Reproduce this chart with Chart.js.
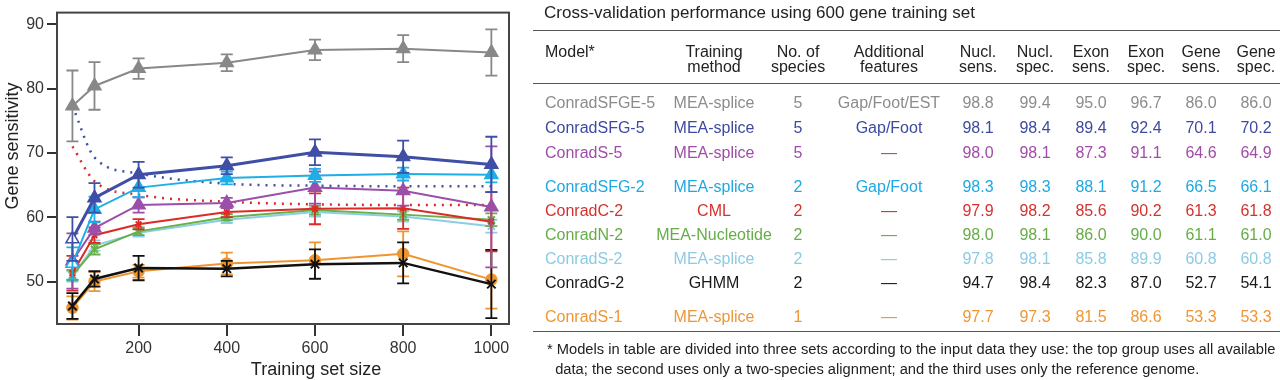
<!DOCTYPE html>
<html>
<head>
<meta charset="utf-8">
<script src="https://cdn.jsdelivr.net/npm/chart.js@4.4.0/dist/chart.umd.min.js"></script>
<style>
  body { margin: 0; width: 1280px; height: 380px; overflow: hidden; background: #fff;
         font-family: "Liberation Sans", Arial, sans-serif; color: #222; }
  #chartBox { position: absolute; left: 0; top: 0; width: 530px; height: 380px; }
  #table { position: absolute; left: 0; top: 0; width: 1280px; height: 380px; }
  .rule { position: absolute; left: 533px; width: 747px; height: 0; border-top: 1.5px solid #555; }
  .cell { position: absolute; white-space: nowrap; line-height: 20px; font-size: 16px; }
  .c { transform: translateX(-50%); }
  .hd { position: absolute; white-space: nowrap; font-size: 16px; line-height: 15px; text-align: center; transform: translateX(-50%); }
  .note { position: absolute; left: 547px; font-size: 14.7px; white-space: nowrap; color: #222; }
</style>
</head>
<body>
<div id="chartBox"><canvas id="geneChart"></canvas></div>
<div id="table"></div>
<script>
// training set sizes and series values (gene sensitivity)
const sizes = [50, 100, 200, 400, 600, 800, 1000];
const xTicks = [200, 400, 600, 800, 1000];
const yTicks = [50, 60, 70, 80, 90];

const sfge5 = [77.3, 80.4, 83.1, 84.0, 86.0, 86.2, 85.6];
const sfge5Err = [5.5, 3.7, 1.6, 1.3, 1.6, 2.1, 3.6];
const sfg5 = [56.6, 63.0, 66.6, 68.0, 70.1, 69.4, 68.2];
const sfg5Err = [3.4, 2.3, 2.0, 1.3, 2.0, 2.5, 4.3];
const s5 = [53.2, 58.3, 61.9, 62.2, 64.6, 64.1, 61.6];
const s5Err = [4.3, 1.0, 1.2, 0.8, 2.5, 2.3, 9.4];
const sfg2 = [52.8, 61.2, 64.6, 66.1, 66.5, 66.7, 66.6];
const sfg2Err = [2.5, 2.0, 1.5, 1.0, 1.0, 1.0, 1.2];
const c2 = [51.3, 57.2, 58.9, 60.8, 61.3, 61.4, 59.3];
const c2Err = [2.7, 1.2, 0.8, 0.8, 2.4, 3.2, 4.6];
const n2 = [51.0, 55.0, 57.8, 60.0, 61.1, 60.4, 59.6];
const n2Err = [0.8, 0.8, 0.6, 0.5, 0.7, 0.8, 1.0];
const s2 = [50.8, 55.6, 57.6, 59.6, 60.8, 60.1, 58.6];
const s2Err = [0.8, 0.8, 0.6, 0.5, 0.7, 0.8, 1.0];
const g2 = [46.2, 50.4, 52.1, 52.0, 52.7, 52.9, 49.6];
const g2Err = [2.0, 1.2, 1.9, 1.2, 2.3, 3.2, 5.3];
const s1 = [45.9, 50.0, 51.6, 52.8, 53.3, 54.3, 50.3];
const s1Err = [1.8, 1.5, 1.0, 1.7, 2.8, 3.5, 4.5];

// dotted reference curves
const blueDotted = [77.3, 69.3, 66.8, 65.2, 64.9, 64.8, 64.8];
const redDotted = [71.0, 65.6, 63.5, 62.4, 62.0, 61.9, 61.9];

// table
const models = ["ConradSFGE-5", "ConradSFG-5", "ConradS-5", "ConradSFG-2", "ConradC-2", "ConradN-2", "ConradS-2", "ConradG-2", "ConradS-1"];
const methods = ["MEA-splice", "MEA-splice", "MEA-splice", "MEA-splice", "CML", "MEA-Nucleotide", "MEA-splice", "GHMM", "MEA-splice"];
const species = ["5", "5", "5", "2", "2", "2", "2", "2", "1"];
const features = ["Gap/Foot/EST", "Gap/Foot", "\u2014", "Gap/Foot", "\u2014", "\u2014", "\u2014", "\u2014", "\u2014"];
const nuclSens = ["98.8", "98.1", "98.0", "98.3", "97.9", "98.0", "97.8", "94.7", "97.7"];
const nuclSpec = ["99.4", "98.4", "98.1", "98.3", "98.2", "98.1", "98.1", "98.4", "97.3"];
const exonSens = ["95.0", "89.4", "87.3", "88.1", "85.6", "86.0", "85.8", "82.3", "81.5"];
const exonSpec = ["96.7", "92.4", "91.1", "91.2", "90.2", "90.0", "89.9", "87.0", "86.6"];
const geneSens = ["86.0", "70.1", "64.6", "66.5", "61.3", "61.1", "60.8", "52.7", "53.3"];
const geneSpec = ["86.0", "70.2", "64.9", "66.1", "61.8", "61.0", "60.8", "54.1", "53.3"];
const rowColors = ["#8c8c8c", "#3d4aa0", "#a04ca8", "#1fa8e2", "#d4322e", "#66ad47", "#8ccbe3", "#1a1a1a", "#ef9634"];

const GRAY = "#888888", DBLUE = "#3f4ea6", PURPLE = "#9c4fa8", CYAN = "#1eaee8",
      RED = "#dc2b26", GREEN = "#6ab04a", LBLUE = "#8ccde6", BLACK = "#111111", ORANGE = "#f0952e";

const pts = (vals) => vals.map((v, i) => ({ x: sizes[i], y: v }));

const series = (label, vals, errs, color, style, width, opts) => Object.assign({
  label: label,
  data: pts(vals),
  errors: errs,
  borderColor: color,
  backgroundColor: color,
  pointBackgroundColor: color,
  pointBorderColor: color,
  borderWidth: width,
  pointStyle: style,
  pointRadius: 7.5,
  pointBorderWidth: 1.5,
  tension: 0,
}, opts || {});

const hollowFirst = (color) => sizes.map((s, i) => (i === 0 ? "#ffffff" : color));

const errorBars = {
  id: "errorBars",
  afterDatasetDraw(chart, args) {
    const ds = chart.data.datasets[args.index];
    if (!ds.errors) return;
    const ctx = chart.ctx;
    const xs = chart.scales.x, ys = chart.scales.y;
    ctx.save();
    ctx.strokeStyle = ds.borderColor;
    ctx.lineWidth = 1.8;
    ds.data.forEach((p, i) => {
      const px = xs.getPixelForValue(p.x);
      const top = ys.getPixelForValue(p.y + ds.errors[i]);
      const bot = ys.getPixelForValue(p.y - ds.errors[i]);
      ctx.beginPath();
      ctx.moveTo(px, top); ctx.lineTo(px, bot);
      ctx.moveTo(px - 6, top); ctx.lineTo(px + 6, top);
      ctx.moveTo(px - 6, bot); ctx.lineTo(px + 6, bot);
      ctx.stroke();
    });
    ctx.restore();
  },
};

const font = "'Liberation Sans', Arial, sans-serif";

// frame round the plot plus the two axis titles (placed a bit off-centre like the original)
const frame = {
  id: "frame",
  afterDraw(chart) {
    const a = chart.chartArea, ctx = chart.ctx;
    ctx.save();
    ctx.strokeStyle = "#444";
    ctx.lineWidth = 2;
    ctx.strokeRect(a.left, a.top, a.right - a.left, a.bottom - a.top);
    ctx.fillStyle = "#222";
    ctx.font = "18px " + font;
    ctx.textAlign = "center";
    ctx.textBaseline = "alphabetic";
    ctx.fillText("Training set size", 316, 375);
    ctx.translate(18, 146);
    ctx.rotate(-Math.PI / 2);
    ctx.fillText("Gene sensitivity", 0, 0);
    ctx.restore();
  },
};

new Chart(document.getElementById("geneChart"), {
  type: "line",
  data: {
    datasets: [
      series("ConradSFGE-5", sfge5, sfge5Err, GRAY, "triangle", 2),
      series("ConradSFG-5", sfg5, sfg5Err, DBLUE, "triangle", 3, { pointBackgroundColor: hollowFirst(DBLUE) }),
      series("ConradSFG-2", sfg2, sfg2Err, CYAN, "triangle", 2, { pointBackgroundColor: hollowFirst(CYAN) }),
      series("ConradS-5", s5, s5Err, PURPLE, "triangle", 2),
      series("ConradC-2", c2, c2Err, RED, "crossRot", 2, { pointRadius: 4, pointBorderWidth: 2 }),
      series("ConradN-2", n2, n2Err, GREEN, "crossRot", 2, { pointRadius: 5, pointBorderWidth: 2 }),
      series("ConradS-2", s2, s2Err, LBLUE, "crossRot", 2, { pointRadius: 5, pointBorderWidth: 2 }),
      series("ConradG-2", g2, g2Err, BLACK, "crossRot", 2.5, { pointRadius: 6, pointBorderWidth: 2 }),
      series("ConradS-1", s1, s1Err, ORANGE, "circle", 2, { pointRadius: 5.5 }),
      {
        label: "blue dotted", data: pts(blueDotted), borderColor: DBLUE, borderWidth: 2.5,
        borderDash: [2, 6], pointRadius: 0, cubicInterpolationMode: "monotone",
      },
      {
        label: "red dotted", data: pts(redDotted), borderColor: RED, borderWidth: 2.5,
        borderDash: [2, 6], pointRadius: 0, cubicInterpolationMode: "monotone",
      },
    ],
  },
  options: {
    responsive: true,
    maintainAspectRatio: false,
    animation: false,
    layout: { padding: { top: 1, right: 21, left: 0, bottom: 0 } },
    plugins: { legend: { display: false }, tooltip: { enabled: false } },
    scales: {
      x: {
        type: "linear",
        min: 15,
        max: 1040,
        afterBuildTicks: (s) => { s.ticks = xTicks.map((v) => ({ value: v })); },
        afterFit: (s) => { s.height = 56; },
        grid: { drawOnChartArea: false, tickLength: 12, color: "#333", lineWidth: 2 },
        border: { display: false },
        ticks: { color: "#333", padding: 3, font: { size: 16, family: font }, callback: (v) => String(v) },
      },
      y: {
        min: 43.4,
        max: 91.8,
        afterBuildTicks: (s) => { s.ticks = yTicks.map((v) => ({ value: v })); },
        afterFit: (s) => { s.width = 57; },
        grid: { drawOnChartArea: false, tickLength: 10, color: "#333", lineWidth: 2 },
        border: { display: false },
        ticks: { color: "#333", padding: 3, font: { size: 16, family: font }, callback: (v) => String(v) },
      },
    },
  },
  plugins: [errorBars, frame],
});

// table on the right
const tbl = document.getElementById("table");
const add = (html) => tbl.insertAdjacentHTML("beforeend", html);

add('<div class="cell" style="left:544px;top:3px;font-size:17px;">Cross-validation performance using 600 gene training set</div>');
add('<div class="rule" style="top:30px"></div>');
add('<div class="rule" style="top:83px"></div>');
add('<div class="rule" style="top:331px"></div>');

const colCenters = [714, 798, 889, 978, 1035, 1091, 1146, 1201, 1256];
const headers = ["Training<br>method", "No. of<br>species", "Additional<br>features", "Nucl.<br>sens.", "Nucl.<br>spec.",
                 "Exon<br>sens.", "Exon<br>spec.", "Gene<br>sens.", "Gene<br>spec."];
add('<div class="cell" style="left:545px;top:42px;">Model*</div>');
headers.forEach((h, i) => add(`<div class="hd" style="left:${colCenters[i]}px;top:44px;">${h}</div>`));

const rowY = [103, 128, 153, 187, 211, 235, 259, 283, 317];
models.forEach((m, r) => {
  const top = rowY[r] - 10;
  const col = rowColors[r];
  add(`<div class="cell" style="left:545px;top:${top}px;color:${col}">${m}</div>`);
  const vals = [methods[r], species[r], features[r], nuclSens[r], nuclSpec[r], exonSens[r], exonSpec[r], geneSens[r], geneSpec[r]];
  vals.forEach((v, i) => add(`<div class="cell c" style="left:${colCenters[i]}px;top:${top}px;color:${col}">${v}</div>`));
});

add('<div class="note" style="top:341px;">* Models in table are divided into three sets according to the input data they use: the top group uses all available</div>');
add('<div class="note" style="top:361px;">&nbsp;&nbsp;data; the second uses only a two-species alignment; and the third uses only the reference genome.</div>');
</script>
</body>
</html>
